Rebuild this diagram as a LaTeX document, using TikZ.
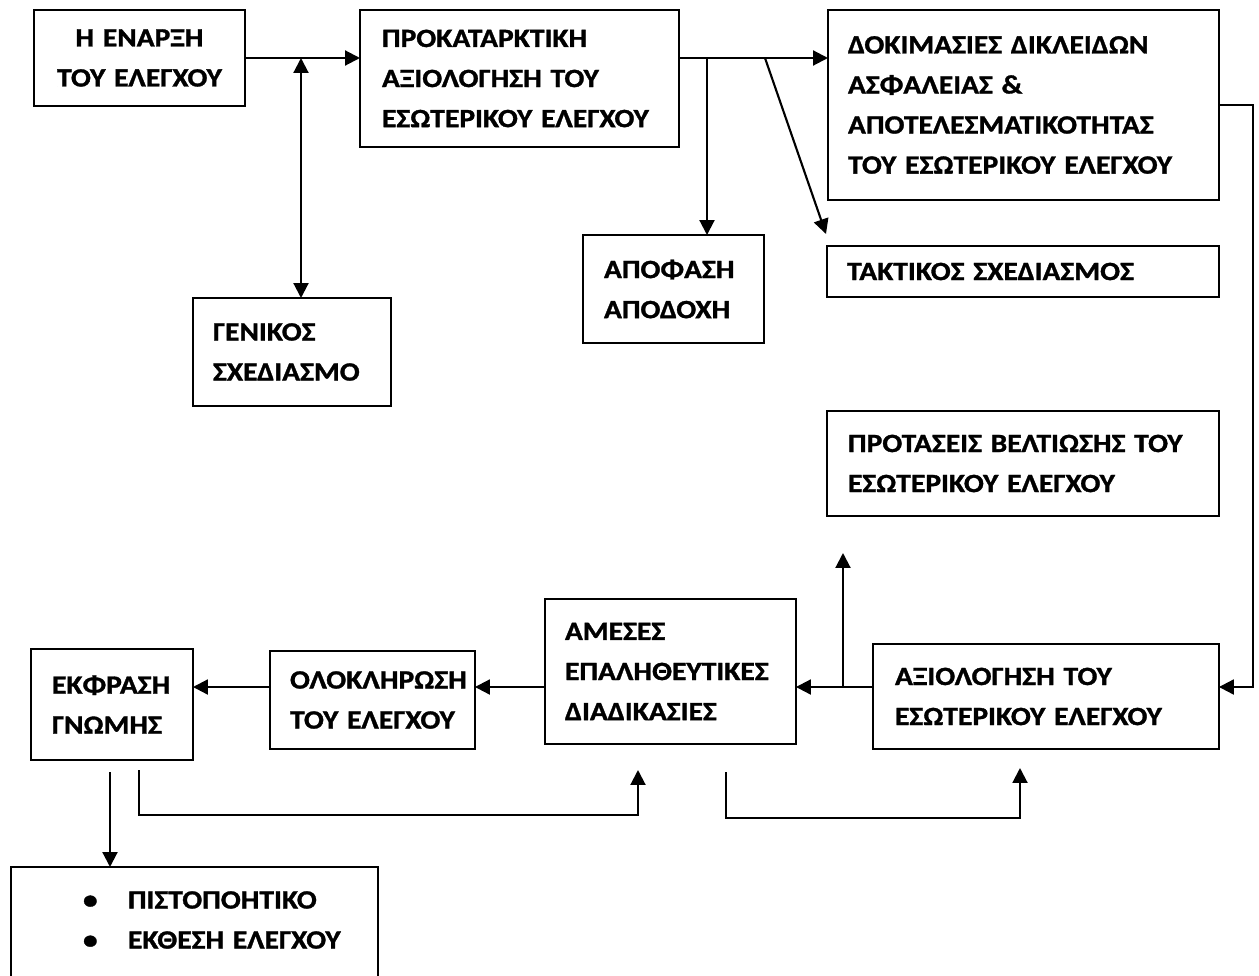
\documentclass[tikz,border=0pt]{standalone}
\usepackage{fontspec}
\setmainfont{Carlito}[FakeStretch=1.12, BoldFeatures={FakeBold=1.2}]
\usetikzlibrary{arrows.meta}
\tikzset{
  blk/.style={draw, line width=1pt, anchor=north west, align=left, outer sep=0pt,
    inner ysep=0pt, font=\fontsize{15}{22.8}\selectfont\bfseries},
  arr/.style={line width=1.2pt, -{Triangle[length=8.5pt,width=8.5pt]}},
  dblarr/.style={line width=1.2pt, {Triangle[length=8.5pt,width=8.5pt]}-{Triangle[length=8.5pt,width=8.5pt]}}
}

\begin{document}
\begin{tikzpicture}[x=0.02cm, y=-0.02cm]
    \useasboundingbox (0,0) rectangle (1259,975);

    \node[blk, align=center, inner xsep=0.3cm, text width=3.62cm, minimum height=1.92cm] (start) at (34,10)
      {Η ΕΝΑΡΞΗ\\ΤΟΥ~ΕΛΕΓΧΟΥ};
    \node[blk, inner xsep=0.4cm, text width=3.16cm, minimum height=2.16cm] (gen) at (193,298)
      {ΓΕΝΙΚΟΣ\\ΣΧΕΔΙΑΣΜΟ};
    \node[blk, inner xsep=0.44cm, text width=5.5cm, minimum height=2.74cm] (prok) at (360,10)
      {ΠΡΟΚΑΤΑΡΚΤΙΚΗ\\ΑΞΙΟΛΟΓΗΣΗ~ΤΟΥ\\ΕΣΩΤΕΡΙΚΟΥ~ΕΛΕΓΧΟΥ};
    \node[blk, inner xsep=0.4cm, text width=7.02cm, minimum height=3.8cm] (dok) at (828,10)
      {ΔΟΚΙΜΑΣΙΕΣ~ΔΙΚΛΕΙΔΩΝ\\ΑΣΦΑΛΕΙΑΣ~\&\\ΑΠΟΤΕΛΕΣΜΑΤΙΚΟΤΗΤΑΣ\\ΤΟΥ~ΕΣΩΤΕΡΙΚΟΥ~ΕΛΕΓΧΟΥ};
    \node[blk, inner xsep=0.42cm, text width=2.78cm, minimum height=2.16cm] (apo) at (583,235)
      {ΑΠΟΦΑΣΗ\\ΑΠΟΔΟΧΗ};
    \node[blk, inner xsep=0.4cm, text width=7.04cm, minimum height=1.02cm] (takt) at (827,246)
      {ΤΑΚΤΙΚΟΣ~ΣΧΕΔΙΑΣΜΟΣ};
    \node[blk, inner xsep=0.42cm, text width=7.0cm, minimum height=2.1cm] (prot) at (827,411)
      {ΠΡΟΤΑΣΕΙΣ~ΒΕΛΤΙΩΣΗΣ~ΤΟΥ\\ΕΣΩΤΕΡΙΚΟΥ~ΕΛΕΓΧΟΥ};
    \node[blk, inner xsep=0.44cm, text width=6.04cm, minimum height=2.1cm] (aks) at (873,644)
      {ΑΞΙΟΛΟΓΗΣΗ~ΤΟΥ\\ΕΣΩΤΕΡΙΚΟΥ~ΕΛΕΓΧΟΥ};
    \node[blk, inner xsep=0.4cm, text width=4.22cm, minimum height=2.9cm] (ame) at (545,599)
      {ΑΜΕΣΕΣ\\ΕΠΑΛΗΘΕΥΤΙΚΕΣ\\ΔΙΑΔΙΚΑΣΙΕΣ};
    \node[blk, inner xsep=0.4cm, text width=3.3cm, minimum height=1.96cm] (olo) at (270,651)
      {ΟΛΟΚΛΗΡΩΣΗ\\ΤΟΥ~ΕΛΕΓΧΟΥ};
    \node[blk, inner xsep=0.42cm, text width=2.4cm, minimum height=2.22cm] (ekf) at (31,649)
      {ΕΚΦΡΑΣΗ\\ΓΝΩΜΗΣ};
    \node[blk, draw=none, inner xsep=1.44cm, text width=4.46cm, minimum height=2.12cm] (out) at (11,867)
      {\makebox[0.9cm][l]{\textbullet}ΠΙΣΤΟΠΟΗΤΙΚΟ\\\makebox[0.9cm][l]{\textbullet}ΕΚΘΕΣΗ~ΕΛΕΓΧΟΥ};
    \draw[line width=1pt] ([yshift=-1cm]out.south west) |- (out.north east) -- ([yshift=-1cm]out.south east);

    \coordinate (j1) at (301,58);
    \coordinate (c1) at (707,58);
    \coordinate (c2) at (765,58);
    \coordinate (c2end) at (826,234);
    \coordinate (r1) at (1253,687);
    \coordinate (c3) at (843,687);
    \coordinate (c3up) at (843,553);
    \coordinate (d1) at (110,772);
    \coordinate (d2) at (139,770);
    \coordinate (d2b) at (139,815);
    \coordinate (d3) at (638,770);
    \coordinate (e1) at (726,772);
    \coordinate (e1b) at (726,818);
    \coordinate (e2) at (1020,768);

    \draw[arr] (start.east) -- (start.east -| prok.west);
    \draw[dblarr] (j1) -- (j1 |- gen.north);
    \draw[arr] (start.east -| prok.east) -- (start.east -| dok.west);
    \draw[arr] (c1) -- (c1 |- apo.north);
    \draw[arr] (c2) -- (c2end);
    \draw[arr] (dok.east) -| (r1) -- (r1 -| aks.east);
    \draw[arr] (r1 -| aks.west) -- (r1 -| ame.east);
    \draw[arr] (c3) -- (c3up);
    \draw[arr] (r1 -| ame.west) -- (r1 -| olo.east);
    \draw[arr] (r1 -| olo.west) -- (r1 -| ekf.east);
    \draw[arr] (d1) -- (d1 |- out.north);
    \draw[arr] (d2) -- (d2b) -| (d3);
    \draw[arr] (e1) -- (e1b) -| (e2);
  \end{tikzpicture}
\end{document}
